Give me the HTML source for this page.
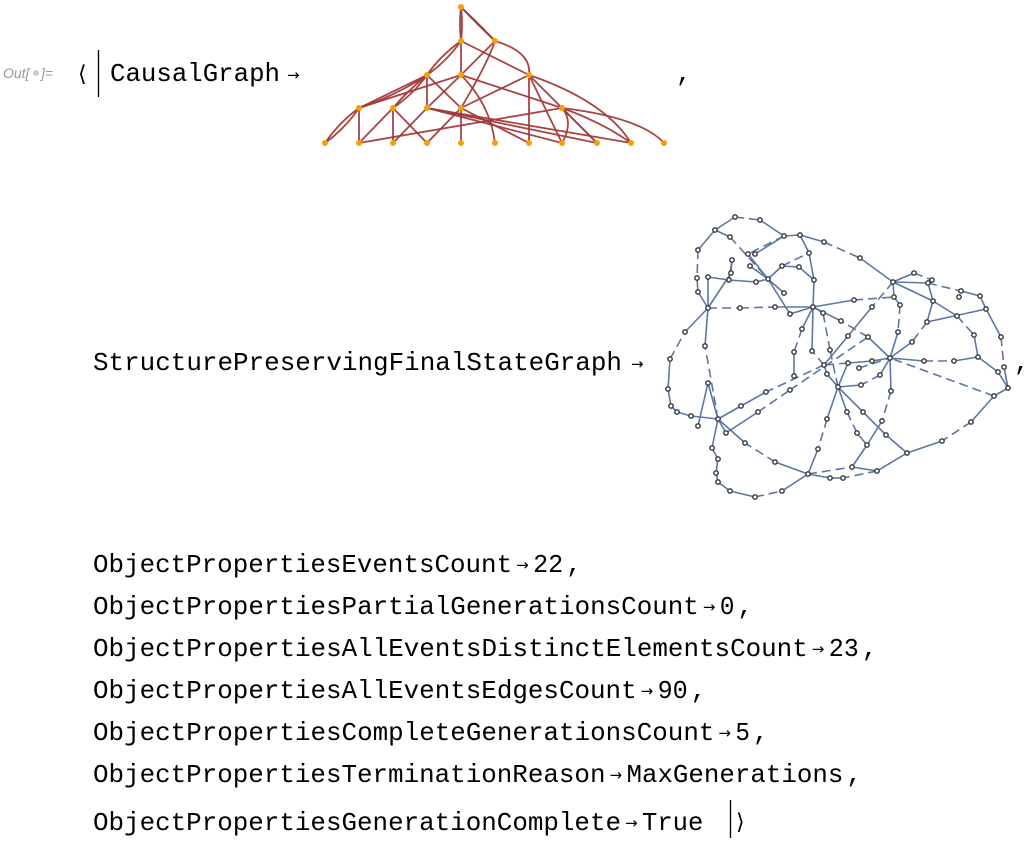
<!DOCTYPE html>
<html><head><meta charset="utf-8"><style>
html,body{margin:0;padding:0;background:#fff;width:1035px;height:851px;overflow:hidden}
svg{display:block}
.t{font-family:"Liberation Mono",monospace;font-size:26px;fill:#000}
.a{font-family:"DejaVu Sans",sans-serif;font-size:15px;fill:#000}
</style></head><body>
<svg id="s" width="1035" height="851" viewBox="0 0 1035 851" xmlns="http://www.w3.org/2000/svg">
<text x="3" y="78" font-family="Liberation Sans,sans-serif" font-style="italic" font-size="14" fill="#999">Out[</text>
<circle cx="36" cy="73" r="3" fill="#ccc"/>
<text x="41" y="78" font-family="Liberation Sans,sans-serif" font-style="italic" font-size="14" fill="#999">]=</text>
<text x="78" y="81" font-family="DejaVu Sans,sans-serif" font-size="22" fill="#000">⟨</text>
<line x1="98.5" y1="50" x2="98.5" y2="97" stroke="#000" stroke-width="1.3"/>
<text class="t" x="110" y="81" textLength="170" lengthAdjust="spacingAndGlyphs">CausalGraph</text>
<text class="a" x="287" y="80">→</text>
<text class="t" x="676" y="81">,</text>
<text class="t" x="93" y="370" textLength="529" lengthAdjust="spacingAndGlyphs">StructurePreservingFinalStateGraph</text>
<text class="a" x="631" y="369">→</text>
<text class="t" x="1014" y="370">,</text>
<g id="lines"></g>
<g id="cg" fill="none" stroke="#a33a3a" stroke-width="1.8" stroke-opacity="0.95"></g>
<g id="cgn" fill="#f5a000"></g>
<g id="sg" fill="none" stroke="#5b77a2" stroke-width="1.6"></g>
<g id="sgn" fill="#fff" stroke="#333" stroke-width="1.4"></g>
<line x1="730.5" y1="800" x2="730.5" y2="838" stroke="#000" stroke-width="1.3"/>
<text x="736" y="829" font-family="DejaVu Sans,sans-serif" font-size="22" fill="#000">⟩</text>
</svg>
<script>
var NS="http://www.w3.org/2000/svg";
function el(p,n,a,txt){var e=document.createElementNS(NS,n);for(var k in a)e.setAttribute(k,a[k]);if(txt)e.textContent=txt;document.getElementById(p).appendChild(e);return e;}
var cw=15.56;
var L=[["ObjectPropertiesEventsCount","22",",",572],["ObjectPropertiesPartialGenerationsCount","0",",",614],["ObjectPropertiesAllEventsDistinctElementsCount","23",",",656],["ObjectPropertiesAllEventsEdgesCount","90",",",698],["ObjectPropertiesCompleteGenerationsCount","5",",",740],["ObjectPropertiesTerminationReason","MaxGenerations",",",782],["ObjectPropertiesGenerationComplete","True","",830]];
L.forEach(function(l){var w=l[0].length*cw;el("lines","text",{"class":"t",x:93,y:l[3],textLength:w-1,lengthAdjust:"spacingAndGlyphs"},l[0]);
el("lines","text",{"class":"a",x:93+w+3,y:l[3]-2},"→");
var vx=93+w+20,vw=l[1].length*cw;
el("lines","text",{"class":"t",x:vx,y:l[3],textLength:vw-1,lengthAdjust:"spacingAndGlyphs"},l[1]);
if(l[2])el("lines","text",{"class":"t",x:vx+vw+2,y:l[3]},l[2]);});
var X4=[325,359,393,427,461,495,529,562,597,631,664];
var N={r0:[461,7],a:[461,41],b:[495,41],c:[427,75],d:[461,75],e:[529,75],f:[359,108],g:[393,108],h:[427,108],i:[461,108],j:[562,108]};
X4.forEach(function(x,k){N["z"+k]=[x,143];});
function ce(p,q,bx,by){var A=N[p],B=N[q];var mx=(A[0]+B[0])/2+(bx||0),my=(A[1]+B[1])/2+(by||0);el("cg","path",{d:"M"+A[0]+","+A[1]+" Q"+mx+","+my+" "+B[0]+","+B[1]});}
[["r0","a",-2,0],["r0","a",2,0],["r0","b",-4,-3],["r0","b",4,3],["a","c",-4,-2],["a","c",3,3],["a","d"],["a","e"],["b","d"],["b","e",20,-6],["b","i",10,-12],
["c","f"],["c","f",3,4],["c","g",-3,0],["c","g",3,3],["c","h"],["c","i"],["d","f"],["d","h"],["d","z5",12,-5],["d","j"],["e","i"],["e","z6"],["e","z7"],["e","z9",25,-8],["e","z8"],
["f","z0",-3,-3],["f","z0",3,3],["f","z1"],["g","z2"],["g","z3"],["g","z1",0,0],["h","z2"],["h","z7"],["h","z8"],["h","z9"],["i","z3"],["i","z4"],["i","z6"],["j","z1"],["j","z7",12,-4],["j","z8"],["j","z10",28,-8],["j","z9",6,-3]].forEach(function(e){ce(e[0],e[1],e[2],e[3]);});
for(var k in N)el("cgn","circle",{cx:N[k][0],cy:N[k][1],r:3});
var S={A:[735,217],B:[760,220],C:[715,230],D:[730,237],E:[784,236],F:[800,235],G:[824,242],H:[698,250],I:[809,253],J:[860,258],K:[748,254],Lx:[755,254],M:[732,260],Nn:[750,266],O:[782,266],P:[799,267],Q:[731,273],R:[708,277],Sx:[697,278],T:[729,280],U:[768,279],V:[756,282],W:[814,280],X:[893,282],Y:[914,273],Z:[928,283],Z2:[932,280],a:[698,292],b:[784,293],c:[961,291],d:[959,297],e:[980,296],f:[708,308],g:[740,308],h:[775,307],i:[813,307],j:[854,300],k:[894,297],l:[933,301],m:[900,305],n:[872,307],o:[823,313],p:[790,314],q:[986,309],r:[957,316],s:[841,321],t:[927,322],u:[685,332],v:[802,329],w:[898,332],x:[848,336],y:[868,337],z:[912,342],aa:[974,335],bb:[1001,337],cc:[705,346],dd:[794,352],ee:[812,351],ff:[830,350],gg:[890,358],hh:[924,361],ii:[954,361],jj:[978,357],kk:[670,359],ll:[872,361],mm:[848,363],nn:[824,365],oo:[859,368],pp:[1004,367],qq:[827,374],rr:[794,376],ss:[880,375],tt:[998,372],uu:[708,383],vv:[861,385],ww:[838,387],xx:[668,389],yy:[1008,388],zz:[766,392],A1:[790,390],A2:[891,391],A3:[994,396],A4:[671,406],A5:[741,406],A6:[677,412],A7:[691,416],A8:[758,412],A9:[718,419],B1:[847,412],B2:[863,412],B3:[827,419],B4:[882,421],B5:[971,422],B6:[698,426],B7:[726,433],B8:[857,433],B9:[886,435],C1:[942,441],C2:[745,443],C3:[867,445],C4:[712,448],C5:[818,449],C6:[907,453],C7:[718,459],C8:[775,462],C9:[852,467],D1:[877,471],D2:[716,473],D3:[808,474],D4:[718,482],D5:[830,478],D6:[843,478],D7:[730,491],D8:[782,491],D9:[755,497]};
var E="A-B- A-C B-E C-H D-U- C-D H-Sx- Sx-a a-f R-f R-T M-Q Q-f T-V V-U- E-F E-Lx E-K- K-U F-I I-W W-i F-G G-J- J-X X-Y Y-Z2- X-Z Z-c- c-e e-q q-bb bb-pp- pp-yy yy-A3 A3-B5 B5-C1- C1-C6 C6-D1 D1-D6- D6-D5 D5-D3 D3-C8 C8-C2- C2-A9 A9-A7 A7-A6 A6-A4 A4-xx xx-kk kk-u- u-f f-g- g-h- h-i i-j j-k- X-l X-k k-m- m-w- w-gg l-t t-z- z-gg gg-hh hh-ii- ii-jj jj-tt tt-yy l-Z l-r r-aa- aa-jj gg-y y-s- s-i gg-ll ll-mm mm-nn- gg-ss ss-vv- vv-ww ww-qq qq-nn nn-ee- ee-i i-p p-U b-U i-v v-dd- dd-rr ww-B1 B1-B8- B8-C3 C3-C9 ww-B2 B2-B9 B9-C6 ww-B3 B3-C5- C5-D3 ww-ff- ff-o- o-i X-n- n-x x-nn nn-zz- zz-A5 A5-A9 A9-cc- cc-f A9-uu uu-B6 A9-B7 B7-A8 A8-A1- A1-y- A9-C4 C4-C7 C7-D2 D2-D4 D4-D7 D7-D9 D9-D8- D8-D3 A2-gg A2-B4- B4-C3 ww-mm oo-gg- D3-C9- C9-D1 A3-gg- t-q O-P P-W U-O O-I- Nn-U M-T".split(" ");
E.forEach(function(s){var dash=s.slice(-1)=="-";if(dash)s=s.slice(0,-1);var p=s.split("-");var A=S[p[0]],B=S[p[1]];if(!A||!B)return;var at={x1:A[0],y1:A[1],x2:B[0],y2:B[1]};if(dash)at["stroke-dasharray"]="9 5";el("sg","line",at);});
for(var k in S)el("sgn","circle",{cx:S[k][0],cy:S[k][1],r:2.2});
</script>
</body></html>
